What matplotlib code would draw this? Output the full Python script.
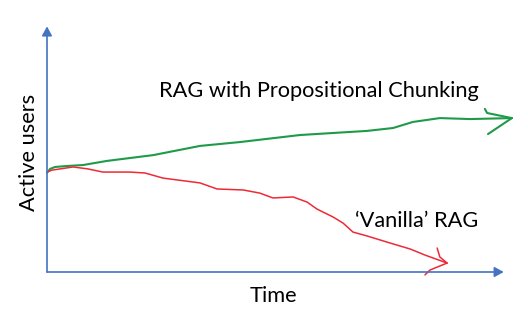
import matplotlib
matplotlib.use("Agg")
import matplotlib.pyplot as plt

# Data (time 0..100, active users 0..100)
time_green = [0.0, 0.7, 1.8, 4.4, 8.0, 13.3, 23.6, 34.0, 42.9, 56.2, 71.1, 76.9, 81.3, 87.3, 94.0, 103.3]
users_green = [41.0, 42.6, 43.4, 43.8, 44.2, 45.9, 48.3, 52.1, 53.7, 56.6, 58.3, 59.5, 62.0, 63.6, 63.2, 63.6]
green_barb_up_t = [97.3, 97.8, 103.3]
green_barb_up_u = [67.4, 65.7, 63.6]
green_barb_lo_t = [98.0, 103.3]
green_barb_lo_u = [57.0, 63.6]

time_red = [0.0, 1.1, 5.8, 9.1, 12.4, 18.4, 21.8, 25.8, 32.4, 34.0, 37.8, 43.6, 47.3, 50.2, 54.7,
            57.8, 60.0, 63.6, 65.8, 68.0, 71.1, 76.2, 80.7, 84.0, 88.9]
users_red = [41.3, 42.1, 43.4, 42.6, 41.3, 41.3, 40.9, 38.8, 37.2, 36.8, 34.3, 33.9, 32.6, 30.6, 31.0,
             28.9, 26.0, 22.7, 20.2, 16.5, 14.9, 12.0, 9.5, 7.0, 3.7]
red_barb_up_t = [86.7, 87.3, 88.9]
red_barb_up_u = [9.9, 6.2, 3.7]
red_barb_lo_t = [84.0, 85.1, 88.9]
red_barb_lo_u = [-1.2, 0.8, 3.7]

label_green = "RAG with Propositional Chunking"
label_red = "\u2018Vanilla\u2019 RAG"
x_label = "Time"
y_label = "Active users"

W, H = 528, 318
fig = plt.figure(figsize=(W / 100, H / 100), dpi=100)
ox, oy, xe, yt = 47, 272, 497, 30
ax = fig.add_axes([ox / W, (H - oy) / H, (xe - ox) / W, (oy - yt) / H])
ax.set_xlim(0, 100)
ax.set_ylim(0, 100)
ax.axis("off")

blue = "#4472C4"
green = "#1E9A48"
red = "#EE2A36"

ax.annotate("", xy=(101.5, 0), xytext=(0, 0), xycoords="data",
            arrowprops=dict(arrowstyle="-|>,head_length=0.55,head_width=0.3", color=blue, lw=1.2,
                            shrinkA=0, shrinkB=0), annotation_clip=False)
ax.annotate("", xy=(0, 101.5), xytext=(0, 0), xycoords="data",
            arrowprops=dict(arrowstyle="-|>,head_length=0.55,head_width=0.3", color=blue, lw=1.2,
                            shrinkA=0, shrinkB=0), annotation_clip=False)

kw = dict(clip_on=False, solid_capstyle="round", solid_joinstyle="round")
ax.plot(time_green, users_green, color=green, lw=1.5, **kw)
ax.plot(green_barb_up_t, green_barb_up_u, color=green, lw=1.5, **kw)
ax.plot(green_barb_lo_t, green_barb_lo_u, color=green, lw=1.5, **kw)
ax.plot(time_red, users_red, color=red, lw=1.1, **kw)
ax.plot(red_barb_up_t, red_barb_up_u, color=red, lw=1.1, **kw)
ax.plot(red_barb_lo_t, red_barb_lo_u, color=red, lw=1.1, **kw)

font = "Lato"
fs = 15.7
fig.text(159 / W, 1 - 91 / H, label_green, fontsize=fs, family=font, ha="left", va="center", color="black")
fig.text(355 / W, 1 - 221 / H, label_red, fontsize=fs, family=font, ha="left", va="center", color="black")
fig.text(273 / W, 1 - 296 / H, x_label, fontsize=fs, family=font, ha="center", va="center", color="black")
fig.text(29 / W, 1 - 152 / H, y_label, fontsize=fs, family=font, ha="center", va="center",
         rotation=90, color="black")

fig.savefig("out.png", dpi=100, facecolor="white")
